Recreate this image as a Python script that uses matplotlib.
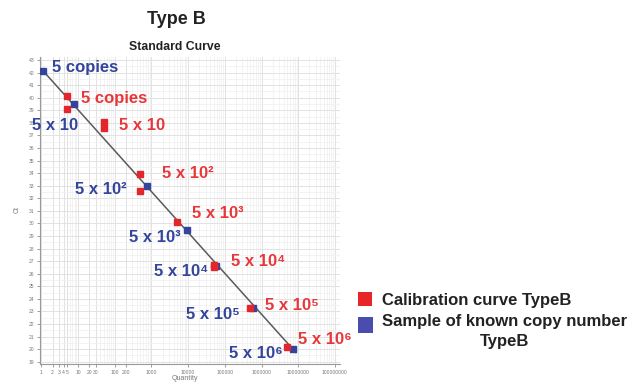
import numpy as np
import matplotlib.pyplot as plt
from matplotlib.patches import Rectangle
from matplotlib.ticker import FixedLocator, LogLocator, MultipleLocator, NullFormatter

plt.rcParams['font.family'] = ['Liberation Sans', 'DejaVu Sans']

# calibration curve (red squares), duplicates per dilution
red_qty = [5, 5, 50, 50, 500, 500, 5000, 5e4, 5e4, 5e5, 5e6]
red_ct = [40.1, 39.1, 38.1, 37.6, 33.9, 32.6, 30.1, 26.7, 26.5, 23.3, 20.2]
# samples of known copy number (blue squares), quantity read back from the curve
blue_qty = [1.13, 7.9, 760, 9400, 5.8e4, 5.9e5, 7.2e6]
blue_ct = [42.1, 39.5, 33.0, 29.5, 26.6, 23.3, 20.0]

# fitted standard curve: Ct = intercept + slope * log10(Q)
fit_slope = -3.25
fit_intercept = 42.28
fit_qty_range = [1.13, 8.7e6]

labels = ['5 copies', '5 x 10', '5 x 10²', '5 x 10³', '5 x 10⁴', '5 x 10⁵', '5 x 10⁶']
red_label_idx = [0, 2, 4, 6, 7, 9, 10]

x_ticks = [1, 2, 3, 4, 5, 10, 20, 30, 100, 200, 1000, 10000, 100000, 1000000, 10000000, 100000000]
y_ticks = list(range(19, 44))

red_c = '#e2262b'
blue_c = '#34449c'
red_txt = '#e8373a'
blue_txt = '#32449b'

fig = plt.figure(figsize=(6.42, 3.85), dpi=100)
ax = fig.add_axes([40 / 642, 1 - 364 / 385, 300 / 642, 307 / 385])

ax.set_xscale('log')
ax.set_xlim(10 ** -0.04, 10 ** 8.14)
ax.set_ylim(18.82, 43.24)

# grid
ax.xaxis.set_major_locator(FixedLocator(x_ticks))
ax.set_xticklabels([str(int(t)) for t in x_ticks])
ax.xaxis.set_minor_locator(LogLocator(base=10, subs=np.arange(1, 10), numticks=20))
ax.xaxis.set_minor_formatter(NullFormatter())
ax.yaxis.set_major_locator(FixedLocator(y_ticks))
ax.yaxis.set_minor_locator(MultipleLocator(0.5))
ax.grid(True, which='major', color='#e2e2e2', linewidth=0.7)
ax.grid(True, which='minor', color='#efefef', linewidth=0.5)
ax.set_axisbelow(True)
ax.tick_params(axis='both', which='major', labelsize=3.6, colors='#777777', length=2, width=0.5, pad=2)
ax.tick_params(axis='both', which='minor', length=0)
for side in ['top', 'right']:
    ax.spines[side].set_visible(False)
for side in ['left', 'bottom']:
    ax.spines[side].set_color('#999999')
    ax.spines[side].set_linewidth(0.8)

# fitted line
line_x = np.logspace(np.log10(fit_qty_range[0]), np.log10(fit_qty_range[1]), 50)
ax.plot(line_x, fit_intercept + fit_slope * np.log10(line_x), color='#5a5a5a', linewidth=1.1, zorder=2)

ax.plot(blue_qty, blue_ct, linestyle='none', marker='s', markersize=4.6, color=blue_c, zorder=3)
ax.plot(red_qty, red_ct, linestyle='none', marker='s', markersize=4.8, color=red_c, zorder=4)

# labels next to the points (offsets in pixels)
red_offsets = [(14, -2), (15, -4), (22, 1), (15, 9), (17, 3), (15, 2), (11, 7)]
for lab, i, off in zip(labels, red_label_idx, red_offsets):
    ax.annotate(lab, xy=(red_qty[i], red_ct[i]), xytext=off, textcoords='offset pixels',
                ha='left', va='center', fontsize=12, fontweight='bold', color=red_txt, zorder=5)

blue_offsets = [(9, 4), (4, -21), (-20, -4), (-7, -8), (-8, -5), (-13, -7), (-10, -4)]
for k, (lab, off) in enumerate(zip(labels, blue_offsets)):
    ax.annotate(lab, xy=(blue_qty[k], blue_ct[k]), xytext=off, textcoords='offset pixels',
                ha='left' if k == 0 else 'right', va='center', fontsize=12, fontweight='bold',
                color=blue_txt, zorder=5)

# titles and axis names
fig.text(176 / 642, 1 - 20 / 385, 'Type B', ha='center', va='center', fontsize=13, fontweight='bold', color='#222222')
fig.text(175 / 642, 1 - 47 / 385, 'Standard Curve', ha='center', va='center', fontsize=8.8, fontweight='bold', color='#222222')
fig.text(17 / 642, 1 - 210 / 385, 'Ct', ha='center', va='center', rotation=90, fontsize=5, color='#777777')
fig.text(185 / 642, 1 - 379 / 385, 'Quantity', ha='center', va='center', fontsize=5, color='#777777')

# legend
fig.add_artist(Rectangle((358 / 642, 1 - 306 / 385), 14 / 642, 14 / 385, transform=fig.transFigure,
                         facecolor='#e8262a', edgecolor='none'))
fig.add_artist(Rectangle((358 / 642, 1 - 333 / 385), 15 / 642, 16 / 385, transform=fig.transFigure,
                         facecolor='#4a4cae', edgecolor='none'))
fig.text(382 / 642, 1 - 300 / 385, 'Calibration curve TypeB', ha='left', va='center',
         fontsize=12, fontweight='bold', color='#222222')
fig.text(382 / 642, 1 - 314 / 385, 'Sample of known copy number\nTypeB', ha='left', va='top',
         multialignment='center', linespacing=1.45, fontsize=12, fontweight='bold', color='#222222')

fig.savefig('out.png', dpi=100)
